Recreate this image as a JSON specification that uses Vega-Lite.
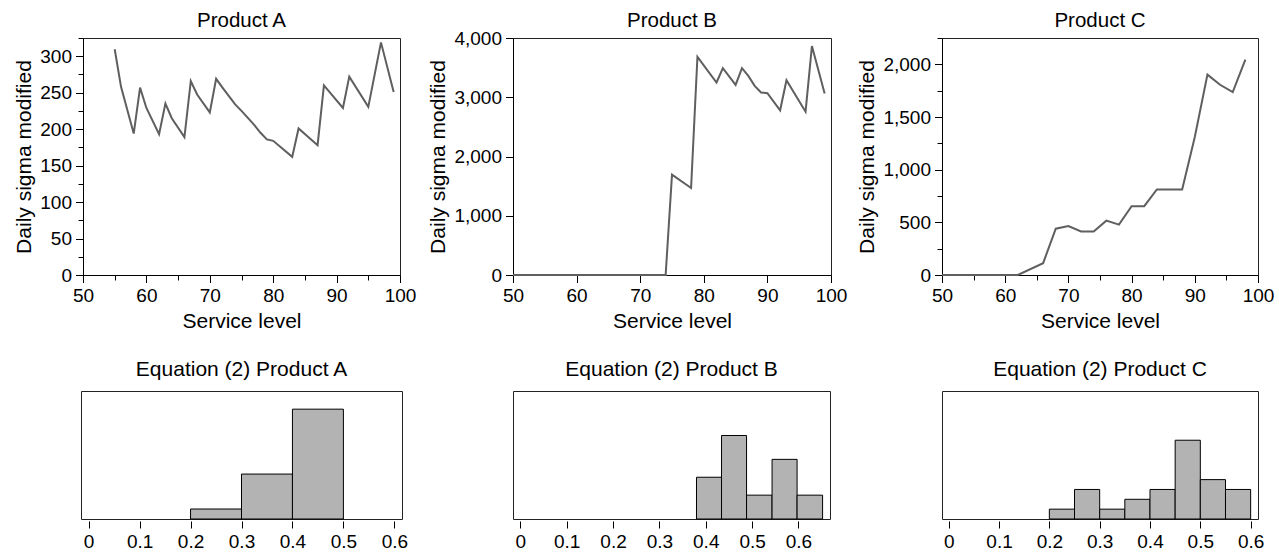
{
  "$schema": "https://vega.github.io/schema/vega-lite/v6.json",
  "padding": {"left": 13, "top": 10, "right": 0, "bottom": 0},
  "config": {
    "font": "Liberation Sans",
    "view": {"stroke": "#222", "strokeWidth": 1},
    "axis": {"grid": false, "labelFlush": false, "domainColor": "#000", "tickColor": "#000", "labelColor": "#000", "titleColor": "#000", "labelFontSize": 19, "titleFontSize": 21, "titleFontWeight": "normal", "labelFont": "Liberation Sans", "titleFont": "Liberation Sans", "tickSize": 7.5, "labelPadding": 4, "titlePadding": 5, "domainWidth": 1, "tickWidth": 1},
    "title": {"fontSize": 20.5, "fontWeight": "normal", "font": "Liberation Sans", "color": "#000", "anchor": "middle", "frame": "group"}
  },
  "datasets": {
    "lineA": [
      {"level": 55, "sigma": 309.6}, {"level": 56, "sigma": 258}, {"level": 58, "sigma": 194}, {"level": 59, "sigma": 257},
      {"level": 60, "sigma": 229}, {"level": 62, "sigma": 193}, {"level": 63, "sigma": 235}, {"level": 64, "sigma": 215},
      {"level": 66, "sigma": 189}, {"level": 67, "sigma": 266}, {"level": 68, "sigma": 247.5}, {"level": 70, "sigma": 223},
      {"level": 71, "sigma": 269}, {"level": 72, "sigma": 257}, {"level": 74, "sigma": 234}, {"level": 75, "sigma": 225},
      {"level": 77, "sigma": 206}, {"level": 78, "sigma": 195}, {"level": 79, "sigma": 186}, {"level": 80, "sigma": 184},
      {"level": 83, "sigma": 162}, {"level": 84, "sigma": 201}, {"level": 87, "sigma": 178}, {"level": 88, "sigma": 260},
      {"level": 91, "sigma": 229}, {"level": 92, "sigma": 272}, {"level": 95, "sigma": 230.6}, {"level": 97, "sigma": 319},
      {"level": 99, "sigma": 251}
    ],
    "lineB": [
      {"level": 50, "sigma": 0}, {"level": 74, "sigma": 0}, {"level": 75, "sigma": 1695}, {"level": 78, "sigma": 1469},
      {"level": 79, "sigma": 3683}, {"level": 82, "sigma": 3249}, {"level": 83, "sigma": 3492}, {"level": 85, "sigma": 3209},
      {"level": 86, "sigma": 3492}, {"level": 87, "sigma": 3361}, {"level": 88, "sigma": 3192}, {"level": 89, "sigma": 3080},
      {"level": 90, "sigma": 3068}, {"level": 92, "sigma": 2780}, {"level": 93, "sigma": 3288}, {"level": 96, "sigma": 2757},
      {"level": 97, "sigma": 3864}, {"level": 99, "sigma": 3063}
    ],
    "lineC": [
      {"level": 50, "sigma": 0}, {"level": 62, "sigma": 0}, {"level": 66, "sigma": 112}, {"level": 68, "sigma": 440},
      {"level": 70, "sigma": 465}, {"level": 72, "sigma": 414}, {"level": 74, "sigma": 414}, {"level": 76, "sigma": 516},
      {"level": 78, "sigma": 478}, {"level": 80, "sigma": 653}, {"level": 82, "sigma": 653}, {"level": 84, "sigma": 812},
      {"level": 88, "sigma": 812}, {"level": 90, "sigma": 1310}, {"level": 92, "sigma": 1902}, {"level": 94, "sigma": 1806},
      {"level": 96, "sigma": 1736}, {"level": 98, "sigma": 2045}
    ],
    "histA": [
      {"bin_start": 0.2, "bin_end": 0.3, "count": 2},
      {"bin_start": 0.3, "bin_end": 0.4, "count": 9},
      {"bin_start": 0.4, "bin_end": 0.5, "count": 22}
    ],
    "histB": [
      {"bin_start": 0.38, "bin_end": 0.434, "count": 7},
      {"bin_start": 0.434, "bin_end": 0.488, "count": 14},
      {"bin_start": 0.488, "bin_end": 0.543, "count": 4},
      {"bin_start": 0.543, "bin_end": 0.597, "count": 10},
      {"bin_start": 0.597, "bin_end": 0.652, "count": 4}
    ],
    "histC": [
      {"bin_start": 0.2, "bin_end": 0.25, "count": 1},
      {"bin_start": 0.25, "bin_end": 0.3, "count": 3},
      {"bin_start": 0.3, "bin_end": 0.35, "count": 1},
      {"bin_start": 0.35, "bin_end": 0.4, "count": 2},
      {"bin_start": 0.4, "bin_end": 0.45, "count": 3},
      {"bin_start": 0.45, "bin_end": 0.5, "count": 8},
      {"bin_start": 0.5, "bin_end": 0.55, "count": 4},
      {"bin_start": 0.55, "bin_end": 0.6, "count": 3}
    ]
  },
  "columns": 3,
  "align": "each",
  "bounds": "flush",
  "center": {"column": true, "row": false},
  "spacing": {"row": 116, "column": 111},
  "concat": [
    {
      "width": 317, "height": 237,
      "title": {"text": "Product A", "offset": -10, "baseline": "alphabetic", "frame": "group"},
      "data": {"name": "lineA"},
      "mark": {"type": "line", "color": "#5f5f5f", "strokeWidth": 2},
      "encoding": {
        "x": {"field": "level", "type": "quantitative", "scale": {"domain": [50, 100], "nice": false, "zero": false},
          "axis": {"title": "Service level", "values": [50, 55, 60, 65, 70, 75, 80, 85, 90, 95, 100],
            "labelExpr": "datum.value % 10 === 0 ? datum.label : ''",
            "tickSize": {"condition": {"test": "datum.value % 10 === 0", "value": 7.5}, "value": 5}}},
        "y": {"field": "sigma", "type": "quantitative", "scale": {"domain": [0, 325], "nice": false},
          "axis": {"title": "Daily sigma modified", "values": [0, 25, 50, 75, 100, 125, 150, 175, 200, 225, 250, 275, 300, 325],
            "labelExpr": "datum.value % 50 === 0 ? datum.label : ''",
            "tickSize": {"condition": {"test": "datum.value % 50 === 0", "value": 7.5}, "value": 5}}}
      }
    },
    {
      "width": 318, "height": 237,
      "title": {"text": "Product B", "offset": -18, "baseline": "alphabetic", "frame": "group"},
      "data": {"name": "lineB"},
      "mark": {"type": "line", "color": "#5f5f5f", "strokeWidth": 2},
      "encoding": {
        "x": {"field": "level", "type": "quantitative", "scale": {"domain": [50, 100], "nice": false, "zero": false},
          "axis": {"title": "Service level", "values": [50, 60, 70, 80, 90, 100]}},
        "y": {"field": "sigma", "type": "quantitative", "scale": {"domain": [0, 4000], "nice": false},
          "axis": {"title": "Daily sigma modified", "values": [0, 1000, 2000, 3000, 4000]}}
      }
    },
    {
      "width": 316, "height": 237,
      "title": {"text": "Product C", "offset": -10, "baseline": "alphabetic", "frame": "group"},
      "data": {"name": "lineC"},
      "mark": {"type": "line", "color": "#5f5f5f", "strokeWidth": 2},
      "encoding": {
        "x": {"field": "level", "type": "quantitative", "scale": {"domain": [50, 100], "nice": false, "zero": false},
          "axis": {"title": "Service level", "values": [50, 55, 60, 65, 70, 75, 80, 85, 90, 95, 100],
            "labelExpr": "datum.value % 10 === 0 ? datum.label : ''",
            "tickSize": {"condition": {"test": "datum.value % 10 === 0", "value": 7.5}, "value": 5}}},
        "y": {"field": "sigma", "type": "quantitative", "scale": {"domain": [0, 2250], "nice": false},
          "axis": {"title": "Daily sigma modified", "values": [0, 250, 500, 750, 1000, 1250, 1500, 1750, 2000, 2250],
            "labelExpr": "datum.value % 500 === 0 ? datum.label : ''",
            "tickSize": {"condition": {"test": "datum.value % 500 === 0", "value": 7.5}, "value": 5}}}
      }
    },
    {
      "width": 321, "height": 128,
      "title": {"text": "Equation (2) Product A", "offset": -6, "baseline": "alphabetic", "fontSize": 21, "frame": "group"},
      "data": {"name": "histA"},
      "mark": {"type": "rect", "fill": "#b3b3b3", "stroke": "#000", "strokeWidth": 1},
      "encoding": {
        "x": {"field": "bin_start", "type": "quantitative", "scale": {"domain": [-0.015, 0.615], "nice": false, "zero": false},
          "axis": {"title": null, "values": [0, 0.1, 0.2, 0.3, 0.4, 0.5, 0.6], "format": ".1~f", "domain": false, "offset": 2, "tickSize": 7}},
        "x2": {"field": "bin_end"},
        "y": {"field": "count", "type": "quantitative", "scale": {"domain": [0, 25.64], "nice": false}, "axis": null},
        "y2": {"datum": 0}
      }
    },
    {
      "width": 317, "height": 128,
      "title": {"text": "Equation (2) Product B", "offset": -6, "baseline": "alphabetic", "fontSize": 21, "frame": "group"},
      "data": {"name": "histB"},
      "mark": {"type": "rect", "fill": "#b3b3b3", "stroke": "#000", "strokeWidth": 1},
      "encoding": {
        "x": {"field": "bin_start", "type": "quantitative", "scale": {"domain": [-0.0158, 0.668], "nice": false, "zero": false},
          "axis": {"title": null, "values": [0, 0.1, 0.2, 0.3, 0.4, 0.5, 0.6], "format": ".1~f", "domain": false, "offset": 2, "tickSize": 7}},
        "x2": {"field": "bin_end"},
        "y": {"field": "count", "type": "quantitative", "scale": {"domain": [0, 21.46], "nice": false}, "axis": null},
        "y2": {"datum": 0}
      }
    },
    {
      "width": 316, "height": 128,
      "title": {"text": "Equation (2) Product C", "offset": -6, "baseline": "alphabetic", "fontSize": 21, "frame": "group"},
      "data": {"name": "histC"},
      "mark": {"type": "rect", "fill": "#b3b3b3", "stroke": "#000", "strokeWidth": 1},
      "encoding": {
        "x": {"field": "bin_start", "type": "quantitative", "scale": {"domain": [-0.0133, 0.6146], "nice": false, "zero": false},
          "axis": {"title": null, "values": [0, 0.1, 0.2, 0.3, 0.4, 0.5, 0.6], "format": ".1~f", "domain": false, "offset": 2, "tickSize": 7}},
        "x2": {"field": "bin_end"},
        "y": {"field": "count", "type": "quantitative", "scale": {"domain": [0, 13], "nice": false}, "axis": null},
        "y2": {"datum": 0}
      }
    }
  ]
}
